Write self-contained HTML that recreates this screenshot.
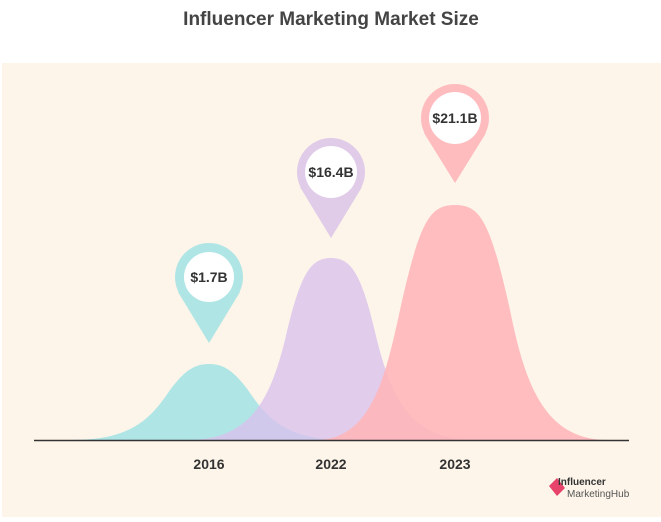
<!DOCTYPE html>
<html><head><meta charset="utf-8"><style>
html,body{margin:0;padding:0;background:#fff;}
body{width:661px;height:522px;position:relative;overflow:hidden;font-family:"Liberation Sans","DejaVu Sans",sans-serif;}
</style></head><body>
<svg width="661" height="522" xmlns="http://www.w3.org/2000/svg" style="position:absolute;left:0;top:0">
<text x="331" y="25" text-anchor="middle" font-size="19" font-weight="bold" fill="#444" font-family="Liberation Sans, sans-serif">Influencer Marketing Market Size</text>
<rect x="2" y="63" width="659" height="454" fill="#fdf5e9"/>
<path d="M72,440 C130,440 150,420 170,390 C185,370 195,364 209,364 C223,364 233,370 248,390 C268,420 288,440 346,440 Z" fill="#b0e5e6"/>
<path d="M188,440 C250,440 270,400 285,340 C300,275 310,258 331,258 C352,258 362,275 377,340 C392,400 412,440 474,440 Z" fill="#d9c2ec" fill-opacity="0.8"/>
<path d="M316,440 C370,440 385,380 400,310 C420,220 430,205 455,205 C480,205 490,220 510,310 C525,385 545,440 608,440 Z" fill="#ffb5b8" fill-opacity="0.88"/>
<line x1="34" y1="440.5" x2="629" y2="440.5" stroke="#333" stroke-width="1.5"/>
<g fill="#b0e5e6"><circle cx="209" cy="277" r="34"/><path d="M178,292 L209,343 L240,292 Z"/></g>
<circle cx="209" cy="277" r="25" fill="#fff"/>
<g fill="#e0cbe8"><circle cx="331" cy="172" r="34"/><path d="M300,187 L331,238 L362,187 Z"/></g>
<circle cx="331" cy="172" r="26" fill="#fff"/>
<g fill="#ffbcbf"><circle cx="455" cy="118" r="34"/><path d="M424,133 L455,183 L486,133 Z"/></g>
<circle cx="455" cy="118" r="26" fill="#fff"/>
<g font-size="14" font-weight="bold" fill="#333" text-anchor="middle">
<text x="209" y="282">$1.7B</text>
<text x="331" y="177">$16.4B</text>
<text x="455" y="123">$21.1B</text>
<text x="209" y="469">2016</text>
<text x="331" y="469">2022</text>
<text x="455" y="469">2023</text>
</g>
<path d="M549,486 L557,478 L565,488 L557,496 Z" fill="#e8436b"/>
<text x="558" y="485" font-size="10" font-weight="bold" fill="#333">Influencer</text>
<text x="567" y="497" font-size="10" fill="#555">MarketingHub</text>
</svg>
</body></html>
